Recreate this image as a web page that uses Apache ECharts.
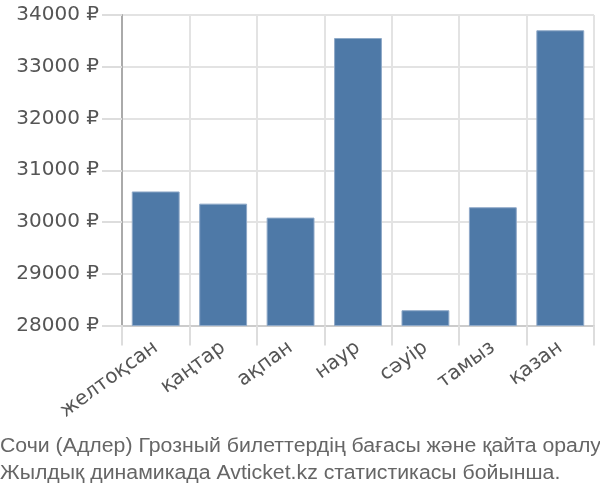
<!DOCTYPE html>
<html><head><meta charset="utf-8">
<script src="https://cdn.jsdelivr.net/npm/echarts@6/dist/echarts.min.js"></script>
<style>html,body{margin:0;padding:0;background:#fff}#c{width:600px;height:500px}</style>
</head><body><div id="c"></div>
<script>
const categories = ['желтоқсан','қаңтар','ақпан','наур','сәуір','тамыз','қазан'];
const prices = [30590, 30355, 30085, 33555, 28295, 30285, 33705];
const yMin = 28000, yMax = 34000, yStep = 1000;
const titleLines = ['Сочи (Адлер) Грозный билеттердің бағасы және қайта оралу','Жылдық динамикада Avticket.kz статистикасы бойынша.'];

const titleFont = '19px "Liberation Sans"';
const cv = document.createElement('canvas').getContext('2d');
cv.font = titleFont;
const w1 = cv.measureText(titleLines[0]).width;
const sx = 601 / w1;

const chart = echarts.init(document.getElementById('c'), null, {renderer:'canvas'});
chart.setOption({
  animation:false,
  graphic:[{type:'text', x:0, y:433, scaleX:sx, scaleY:1.05,
    style:{text:titleLines.join('\n'), font:titleFont, fill:'#666', lineHeight:26}}],
  grid:{left:122, right:6, top:15, bottom:174.5, containLabel:false},
  xAxis:{type:'category', data:categories,
    axisLine:{show:true, lineStyle:{color:'#ccc', width:2}},
    axisTick:{show:true, length:20, lineStyle:{color:'#ddd', width:2}},
    splitLine:{show:true, lineStyle:{color:'#e3e3e3', width:2}},
    axisLabel:{rotate:36, fontSize:20, color:'#555', fontFamily:'DejaVu Sans', margin:20, interval:0}},
  yAxis:{type:'value', min:yMin, max:yMax, interval:yStep,
    axisLine:{show:true, lineStyle:{color:'#aaa', width:2}},
    axisTick:{show:true, length:20, lineStyle:{color:'#ddd', width:2}},
    splitLine:{show:true, lineStyle:{color:'#e3e3e3', width:2}},
    axisLabel:{formatter:v => v + ' ₽', fontSize:20, color:'#555', fontFamily:'DejaVu Sans', margin:23}},
  series:[{type:'bar', data:prices, barCategoryGap:'29%',
    itemStyle:{color:'#4e79a7', borderColor:'#8fa9c8', borderWidth:1}}]
});
</script></body></html>
